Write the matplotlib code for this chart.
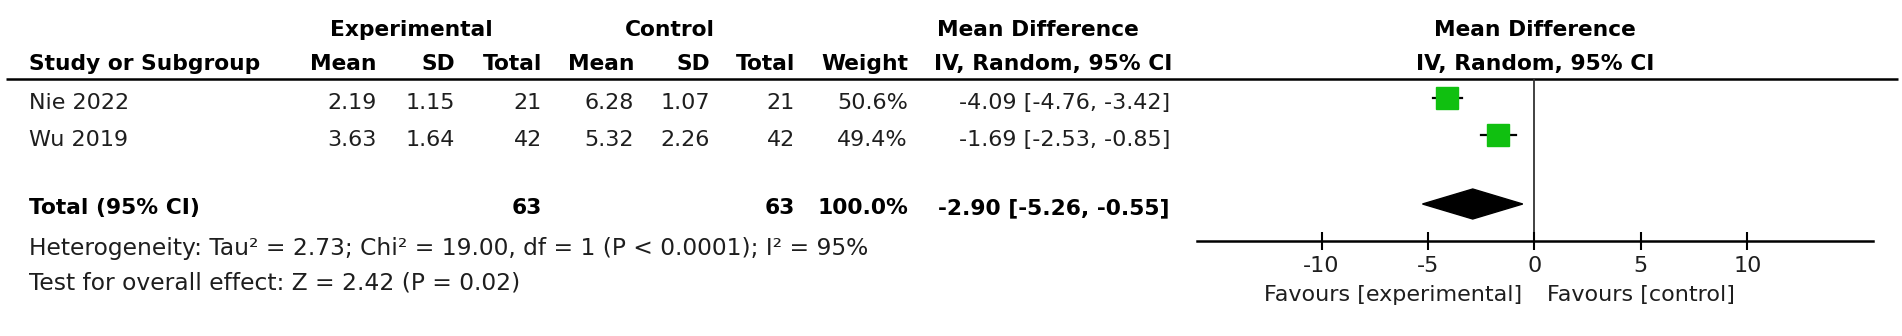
"""
RevMan 스타일 forest plot 재현 (Mean Difference, IV, Random, 95% CI).
"""
import numpy as np
import matplotlib
matplotlib.use("Agg")
import matplotlib.pyplot as plt

# ---- data ----
studies = ["Nie 2022", "Wu 2019"]
exp_mean = [2.19, 3.63]
exp_sd = [1.15, 1.64]
exp_n = [21, 42]
ctl_mean = [6.28, 5.32]
ctl_sd = [1.07, 2.26]
ctl_n = [21, 42]
weights = [50.6, 49.4]
md = [-4.09, -1.69]
ci_lo = [-4.76, -2.53]
ci_hi = [-3.42, -0.85]

total_exp = 63
total_ctl = 63
total_weight = 100.0
pooled_md = -2.90
pooled_lo = -5.26
pooled_hi = -0.55

het_text = "Heterogeneity: Tau² = 2.73; Chi² = 19.00, df = 1 (P < 0.0001); I² = 95%"
overall_text = "Test for overall effect: Z = 2.42 (P = 0.02)"
xticks = [-10, -5, 0, 5, 10]
fav_left = "Favours [experimental]"
fav_right = "Favours [control]"

# ---- layout (pixels, figure 1902x336) ----
W, H = 1902, 336
plt.rcParams["font.family"] = ["DejaVu Sans"]
FS = 16        # 일반 텍스트
FSB = 15.7     # 굵은 헤더
FS_NOTE = 16.8 # 이질성/전체효과 문구
TXT = "#1e1e1e"

fig = plt.figure(figsize=(W / 100, H / 100), dpi=100)
tab = fig.add_axes([0, 0, 1, 1])
tab.set_xlim(0, W)
tab.set_ylim(H, 0)
tab.axis("off")

y_head1, y_head2, y_line = 30, 64, 79
row_y = [103, 140]
y_total = 208
y_het, y_test = 248, 283
col_right = {"em": 377, "esd": 455, "en": 542, "cm": 634, "csd": 710,
             "cn": 795, "w": 908, "ci": 1170}
x_left = 29

def t(x, y, s, ha="right", bold=False, size=None):
    tab.text(x, y, s, ha=ha, va="center", color="black" if bold else TXT,
             fontsize=size or (FSB if bold else FS),
             fontweight="bold" if bold else "normal")

# 헤더
t(411, y_head1, "Experimental", ha="center", bold=True)
t(670, y_head1, "Control", ha="center", bold=True)
t(1038, y_head1, "Mean Difference", ha="center", bold=True)
t(1535, y_head1, "Mean Difference", ha="center", bold=True)
t(x_left, y_head2, "Study or Subgroup", ha="left", bold=True)
for key, lab in [("em", "Mean"), ("esd", "SD"), ("en", "Total"),
                 ("cm", "Mean"), ("csd", "SD"), ("cn", "Total"), ("w", "Weight")]:
    t(col_right[key], y_head2, lab, bold=True)
t(col_right["ci"] + 2, y_head2, "IV, Random, 95% CI", bold=True)
t(1535, y_head2, "IV, Random, 95% CI", ha="center", bold=True)
tab.plot([6, 1898], [y_line, y_line], color="black", lw=1.8, solid_capstyle="butt")

# 연구별 행
for i, name in enumerate(studies):
    y = row_y[i]
    t(x_left, y, name, ha="left")
    t(col_right["em"], y, f"{exp_mean[i]:.2f}")
    t(col_right["esd"], y, f"{exp_sd[i]:.2f}")
    t(col_right["en"], y, f"{exp_n[i]}")
    t(col_right["cm"], y, f"{ctl_mean[i]:.2f}")
    t(col_right["csd"], y, f"{ctl_sd[i]:.2f}")
    t(col_right["cn"], y, f"{ctl_n[i]}")
    t(col_right["w"], y, f"{weights[i]:.1f}%")
    t(col_right["ci"], y, f"{md[i]:.2f} [{ci_lo[i]:.2f}, {ci_hi[i]:.2f}]")

# 합계 행
t(x_left, y_total, "Total (95% CI)", ha="left", bold=True)
t(col_right["en"], y_total, f"{total_exp}", bold=True)
t(col_right["cn"], y_total, f"{total_ctl}", bold=True)
t(col_right["w"], y_total, f"{total_weight:.1f}%", bold=True)
t(col_right["ci"], y_total, f"{pooled_md:.2f} [{pooled_lo:.2f}, {pooled_hi:.2f}]", bold=True)
t(x_left, y_het, het_text, ha="left", size=FS_NOTE)
t(x_left, y_test, overall_text, ha="left", size=FS_NOTE)

# ---- forest 패널 ----
ax_l, ax_r, ax_bot = 1197, 1873, 241
ax = fig.add_axes([ax_l / W, (H - ax_bot) / H, (ax_r - ax_l) / W, (ax_bot - y_line) / H])
ax.set_xlim(-15.85, 15.9)
ax.set_ylim(ax_bot, y_line)
ax.patch.set_alpha(0)
for side in ["top", "right", "left"]:
    ax.spines[side].set_visible(False)
ax.spines["bottom"].set_linewidth(1.8)
ax.set_yticks([])
ax.set_xticks(xticks)
ax.set_xticklabels([str(v) for v in xticks], fontsize=FS, color=TXT)
ax.tick_params(axis="x", direction="inout", length=13, width=1.5, pad=4)

ax.axvline(0, color="#333333", lw=1.3, zorder=1)

marker_off = -5
for i in range(len(studies)):
    y = row_y[i] + marker_off
    ax.plot([ci_lo[i], ci_hi[i]], [y, y], color="black", lw=1.6, zorder=2)
    ms = 15.8 * np.sqrt(weights[i] / 50.0)
    ax.plot(md[i], y, marker="s", ms=ms, color="#10C010", mec="#10C010", zorder=3)

yd = y_total - 4
half_h = 15
ax.fill([pooled_lo, pooled_md, pooled_hi, pooled_md],
        [yd, yd - half_h, yd, yd + half_h], color="black", zorder=3)

ax.text(-0.6, 295, fav_left, transform=ax.transData, ha="right", va="center",
        fontsize=FS, color=TXT, clip_on=False)
ax.text(0.6, 295, fav_right, transform=ax.transData, ha="left", va="center",
        fontsize=FS, color=TXT, clip_on=False)

fig.savefig("out.png", dpi=100)
